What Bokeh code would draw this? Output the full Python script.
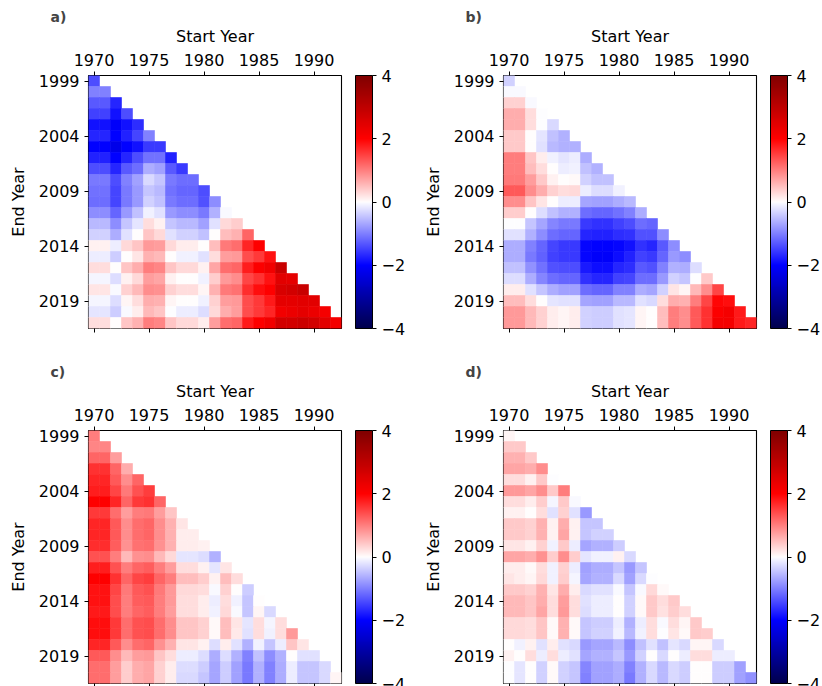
from bokeh.plotting import figure
from bokeh.models import (ColumnDataSource, LinearColorMapper, ColorBar, FixedTicker,
                          Range1d, LinearAxis, CustomJSTickFormatter, CustomLabelingPolicy)
from bokeh.layouts import column, row
from bokeh.embed import file_html
from bokeh.resources import INLINE

start_years = list(range(1970, 1993))
end_years = list(range(1999, 2022))
x_ticks = [1970, 1975, 1980, 1985, 1990]
y_ticks = [1999, 2004, 2009, 2014, 2019]
cbar_ticks = [-4, -2, 0, 2, 4]
panel_labels = ["a)", "b)", "c)", "d)"]

# one list per end year (1999..2021), values for start years 1970..(end-29)
panel_a = [
    [-1.4],
    [-1.0, -1.0],
    [-1.3, -1.3, -1.7],
    [-1.5, -1.5, -1.85, -1.4],
    [-1.85, -1.85, -2.05, -1.85, -1.65],
    [-1.7, -1.7, -2.0, -1.75, -1.45, -1.0],
    [-2.0, -2.0, -2.25, -2.0, -1.85, -1.55, -1.55],
    [-1.75, -1.75, -2.0, -1.7, -1.4, -1.1, -1.1, -1.75],
    [-1.4, -1.4, -1.7, -1.3, -1.15, -0.65, -0.75, -1.3, -1.55],
    [-1.05, -1.05, -1.4, -1.0, -0.75, -0.3, -0.45, -1.05, -1.15, -1.15],
    [-1.1, -1.1, -1.45, -1.05, -0.8, -0.45, -0.55, -1.1, -1.2, -1.2, -1.4],
    [-1.15, -1.15, -1.45, -1.05, -0.8, -0.35, -0.5, -1.05, -1.15, -1.15, -1.35, -0.9],
    [-0.9, -0.9, -1.2, -0.8, -0.5, -0.1, -0.25, -0.8, -0.9, -0.9, -1.05, -0.6, -0.05],
    [-0.55, -0.55, -0.9, -0.45, -0.2, 0.25, 0.1, -0.45, -0.55, -0.55, -0.75, -0.25, 0.3, 0.4],
    [-0.35, -0.35, -0.65, -0.25, 0.0, 0.45, 0.3, -0.25, -0.35, -0.35, -0.5, 0.0, 0.5, 0.6, 1.2],
    [0.1, 0.1, -0.15, 0.3, 0.45, 0.8, 0.75, 0.3, 0.15, 0.15, 0.0, 0.5, 1.05, 1.15, 1.7, 2.0],
    [-0.15, -0.15, -0.4, 0.0, 0.2, 0.6, 0.55, 0.02, -0.1, -0.1, -0.25, 0.27, 0.75, 0.8, 1.4, 1.55, 1.85],
    [0.27, 0.27, 0.0, 0.45, 0.65, 1.0, 0.95, 0.45, 0.3, 0.3, 0.1, 0.7, 1.15, 1.2, 1.75, 2.05, 2.2, 2.85],
    [-0.08, -0.08, -0.27, 0.1, 0.3, 0.75, 0.7, 0.1, 0.0, 0.0, -0.1, 0.4, 0.8, 0.9, 1.45, 1.6, 1.85, 2.45, 2.4],
    [0.2, 0.2, -0.05, 0.35, 0.55, 0.9, 0.85, 0.35, 0.25, 0.25, 0.08, 0.6, 1.05, 1.1, 1.65, 1.9, 2.0, 2.6, 2.7, 2.85],
    [-0.08, -0.08, -0.27, 0.08, 0.25, 0.65, 0.6, 0.08, 0.0, 0.0, -0.1, 0.35, 0.75, 0.8, 1.4, 1.55, 1.8, 2.4, 2.4, 2.45, 2.45],
    [-0.2, -0.2, -0.4, -0.05, 0.15, 0.55, 0.45, -0.03, -0.15, -0.15, -0.27, 0.3, 0.65, 0.75, 1.4, 1.55, 1.7, 2.2, 2.3, 2.4, 2.3, 2.15],
    [0.25, 0.25, 0.0, 0.45, 0.6, 1.0, 0.95, 0.45, 0.3, 0.3, 0.15, 0.75, 1.15, 1.2, 1.8, 2.0, 2.2, 2.7, 2.7, 2.8, 2.7, 2.45, 2.15],
]

panel_b = [
    [-0.35],
    [-0.05, -0.05],
    [0.35, 0.35, -0.05],
    [0.65, 0.65, 0.25, -0.03],
    [0.65, 0.65, 0.25, -0.03, -0.3],
    [0.43, 0.43, 0.0, -0.2, -0.5, -0.6],
    [0.43, 0.43, 0.0, -0.25, -0.55, -0.6, -0.6],
    [1.0, 1.0, 0.45, 0.15, -0.1, -0.2, -0.15, -0.65],
    [1.0, 1.0, 0.5, 0.25, 0.0, -0.15, -0.1, -0.5, -0.6],
    [1.05, 1.05, 0.75, 0.43, 0.12, 0.0, 0.05, -0.35, -0.5, -0.5],
    [1.3, 1.3, 0.9, 0.65, 0.35, 0.27, 0.3, -0.15, -0.27, -0.27, -0.1],
    [0.9, 0.9, 0.45, 0.2, 0.0, -0.15, -0.15, -0.7, -0.75, -0.75, -0.65, -0.55],
    [0.4, 0.4, 0.0, -0.27, -0.5, -0.6, -0.6, -1.15, -1.2, -1.2, -1.1, -1.0, -0.65],
    [-0.03, -0.03, -0.45, -0.7, -0.95, -1.05, -1.05, -1.55, -1.6, -1.6, -1.5, -1.4, -1.15, -1.2],
    [-0.25, -0.25, -0.6, -0.9, -1.15, -1.2, -1.2, -1.7, -1.75, -1.75, -1.65, -1.6, -1.35, -1.35, -0.9],
    [-0.65, -0.65, -1.0, -1.2, -1.45, -1.55, -1.55, -1.95, -2.0, -2.0, -1.95, -1.85, -1.6, -1.7, -1.3, -0.9],
    [-0.65, -0.65, -1.05, -1.25, -1.5, -1.55, -1.55, -1.95, -2.05, -2.05, -1.9, -1.75, -1.5, -1.55, -1.2, -0.8, -0.9],
    [-0.5, -0.5, -0.85, -1.1, -1.35, -1.4, -1.4, -1.8, -1.9, -1.9, -1.7, -1.65, -1.3, -1.35, -1.0, -0.6, -0.65, -0.27],
    [-0.27, -0.27, -0.65, -0.95, -1.15, -1.2, -1.2, -1.6, -1.7, -1.7, -1.5, -1.45, -1.15, -1.15, -0.8, -0.35, -0.45, -0.03, 0.43],
    [0.15, 0.15, -0.25, -0.45, -0.65, -0.75, -0.75, -1.15, -1.2, -1.2, -1.0, -1.0, -0.65, -0.7, -0.35, 0.2, 0.08, 0.55, 0.9, 1.45],
    [0.5, 0.5, 0.27, 0.0, -0.2, -0.25, -0.25, -0.7, -0.75, -0.75, -0.55, -0.55, -0.25, -0.3, 0.25, 0.65, 0.6, 1.0, 1.45, 1.95, 1.9],
    [0.8, 0.8, 0.55, 0.35, 0.15, 0.08, 0.13, -0.35, -0.4, -0.4, -0.25, -0.2, 0.08, 0.0, 0.5, 1.0, 0.9, 1.3, 1.6, 2.05, 2.15, 1.8],
    [0.8, 0.8, 0.55, 0.35, 0.15, 0.08, 0.13, -0.35, -0.4, -0.4, -0.25, -0.2, 0.08, 0.0, 0.5, 1.0, 0.9, 1.3, 1.6, 2.15, 2.15, 1.8, 1.7],
]

panel_c = [
    [1.0],
    [0.95, 0.95],
    [1.2, 1.2, 0.75],
    [1.6, 1.6, 1.2, 0.65],
    [1.7, 1.7, 1.3, 0.9, 1.2],
    [1.75, 1.75, 1.45, 1.05, 1.35, 1.5],
    [2.0, 2.0, 1.7, 1.2, 1.55, 1.6, 1.2],
    [1.55, 1.55, 1.15, 0.75, 1.0, 1.05, 0.75, 0.45],
    [1.7, 1.7, 1.3, 0.9, 1.15, 1.2, 0.9, 0.6, 0.2],
    [1.7, 1.7, 1.3, 0.9, 1.15, 1.2, 0.9, 0.6, 0.15, 0.15],
    [1.65, 1.65, 1.25, 0.85, 1.1, 1.15, 0.85, 0.6, 0.15, 0.15, 0.12],
    [1.35, 1.35, 1.0, 0.55, 0.85, 0.9, 0.55, 0.3, -0.2, -0.2, -0.27, -0.6],
    [1.75, 1.75, 1.35, 1.0, 1.2, 1.25, 1.0, 0.75, 0.25, 0.25, 0.12, -0.2, 0.2],
    [2.0, 2.0, 1.6, 1.2, 1.45, 1.5, 1.2, 1.0, 0.5, 0.5, 0.4, 0.12, 0.5, 0.25],
    [1.85, 1.85, 1.45, 1.05, 1.3, 1.35, 1.05, 0.8, 0.3, 0.3, 0.25, -0.05, 0.35, 0.0, -0.4],
    [1.85, 1.85, 1.4, 1.0, 1.25, 1.3, 1.0, 0.8, 0.27, 0.27, 0.15, -0.15, 0.27, -0.1, -0.45, 0.02],
    [1.8, 1.8, 1.4, 1.0, 1.2, 1.25, 1.0, 0.75, 0.25, 0.25, 0.15, -0.1, 0.3, -0.05, -0.45, 0.08, -0.3],
    [1.9, 1.9, 1.55, 1.15, 1.35, 1.4, 1.15, 0.9, 0.45, 0.45, 0.35, 0.04, 0.5, 0.2, -0.2, 0.27, -0.08, 0.27],
    [1.9, 1.9, 1.55, 1.15, 1.35, 1.4, 1.15, 0.9, 0.45, 0.45, 0.35, 0.05, 0.5, 0.18, -0.25, 0.27, -0.1, 0.25, 0.8],
    [1.7, 1.7, 1.3, 0.9, 1.15, 1.2, 0.85, 0.6, 0.2, 0.2, 0.12, -0.27, 0.15, -0.25, -0.6, -0.1, -0.45, -0.15, 0.45, 0.2],
    [1.3, 1.3, 0.9, 0.55, 0.75, 0.8, 0.45, 0.27, -0.15, -0.15, -0.27, -0.65, -0.27, -0.6, -1.0, -0.5, -0.9, -0.6, 0.0, -0.25, -0.25],
    [1.15, 1.15, 0.75, 0.4, 0.65, 0.7, 0.35, 0.15, -0.27, -0.27, -0.4, -0.7, -0.4, -0.75, -1.05, -0.6, -1.0, -0.65, -0.15, -0.45, -0.45, -0.3],
    [1.15, 1.15, 0.75, 0.4, 0.65, 0.7, 0.35, 0.15, -0.3, -0.3, -0.45, -0.7, -0.4, -0.75, -1.05, -0.6, -1.0, -0.65, -0.15, -0.45, -0.45, -0.3, 0.08],
]

panel_d = [
    [0.08],
    [0.43, 0.43],
    [0.6, 0.6, 0.43],
    [0.7, 0.7, 0.63, 0.9],
    [0.27, 0.27, 0.12, 0.43, -0.03],
    [0.8, 0.8, 0.7, 0.9, 0.43, 1.0],
    [0.27, 0.27, 0.15, 0.4, -0.08, 0.43, -0.05],
    [0.12, 0.12, 0.02, 0.27, -0.25, 0.35, -0.25, -0.8],
    [0.43, 0.43, 0.35, 0.6, 0.12, 0.65, 0.12, -0.45, -0.45],
    [0.43, 0.43, 0.35, 0.6, 0.12, 0.7, 0.12, -0.45, -0.35, -0.35],
    [0.2, 0.2, 0.12, 0.35, -0.12, 0.43, -0.15, -0.7, -0.6, -0.6, -0.4],
    [0.7, 0.7, 0.63, 0.85, 0.4, 0.9, 0.4, -0.2, -0.12, -0.12, 0.12, -0.3],
    [0.15, 0.15, 0.04, 0.27, -0.12, 0.35, -0.15, -0.75, -0.65, -0.65, -0.45, -0.8, -0.45],
    [0.2, 0.15, 0.08, 0.3, -0.12, 0.4, -0.08, -0.7, -0.6, -0.6, -0.3, -0.75, -0.3, -0.03],
    [0.43, 0.43, 0.35, 0.6, 0.2, 0.65, 0.15, -0.3, -0.25, -0.25, -0.05, -0.45, -0.05, 0.3, 0.05],
    [0.55, 0.55, 0.45, 0.65, 0.25, 0.75, 0.25, -0.25, -0.15, -0.15, 0.0, -0.35, 0.05, 0.43, 0.25, 0.43],
    [0.55, 0.55, 0.45, 0.7, 0.25, 0.8, 0.25, -0.27, -0.15, -0.15, 0.0, -0.35, 0.05, 0.43, 0.22, 0.4, 0.27],
    [0.3, 0.3, 0.25, 0.45, 0.04, 0.6, 0.04, -0.45, -0.4, -0.4, -0.15, -0.6, -0.15, 0.25, -0.05, 0.25, 0.08, 0.43],
    [0.3, 0.3, 0.25, 0.45, 0.04, 0.6, 0.04, -0.45, -0.35, -0.35, -0.12, -0.55, -0.1, 0.25, -0.03, 0.2, 0.05, 0.43, 0.4],
    [0.02, -0.1, 0.12, -0.25, 0.15, -0.25, -0.3, -0.8, -0.7, -0.7, -0.55, -0.9, -0.5, -0.25, -0.5, -0.2, -0.3, 0.08, 0.08, -0.3],
    [0.1, 0.02, 0.25, -0.15, 0.25, -0.15, -0.25, -0.7, -0.6, -0.6, -0.45, -0.8, -0.35, 0.0, -0.3, 0.02, -0.15, 0.25, 0.25, -0.15, -0.15],
    [-0.03, -0.2, 0.03, -0.35, 0.05, -0.35, -0.45, -0.95, -0.75, -0.75, -0.65, -1.0, -0.6, -0.3, -0.55, -0.3, -0.4, 0.02, 0.02, -0.4, -0.4, -0.75],
    [-0.03, -0.2, 0.03, -0.35, 0.05, -0.35, -0.45, -1.0, -0.75, -0.75, -0.65, -1.05, -0.6, -0.3, -0.55, -0.3, -0.4, 0.02, 0.02, -0.4, -0.4, -0.75, -0.85],
]


def seismic_palette(n=256):
    anchors = [(0, 0, 0.3), (0, 0, 1), (1, 1, 1), (1, 0, 0), (0.5, 0, 0)]
    pal = []
    for i in range(n):
        t = i / (n - 1) * 4
        k = min(int(t), 3)
        f = t - k
        c = [anchors[k][j] * (1 - f) + anchors[k + 1][j] * f for j in range(3)]
        pal.append("#%02x%02x%02x" % tuple(int(round(v * 255)) for v in c))
    return pal


PAL = seismic_palette()
FONT = "DejaVu Sans"
FS = "16px"


def style_axis(ax):
    ax.axis_line_color = None
    ax.major_tick_line_color = "black"
    ax.major_tick_out = 4
    ax.major_tick_in = 0
    ax.minor_tick_line_color = None
    ax.major_label_text_font = FONT
    ax.major_label_text_font_size = FS
    ax.major_label_text_color = "black"
    ax.axis_label_text_font = FONT
    ax.axis_label_text_font_style = "normal"
    ax.axis_label_text_font_size = FS
    ax.axis_label_text_color = "black"
    ax.major_label_standoff = 5


def make_panel(data, label, min_left, min_right, min_bottom):
    xs, ys, vs = [], [], []
    for r, vals in enumerate(data):
        for c, v in enumerate(vals[: r + 1]):
            xs.append(start_years[c])
            ys.append(end_years[r])
            vs.append(v)
    src = ColumnDataSource(dict(x=xs, y=ys, v=vs))
    mapper = LinearColorMapper(palette=PAL, low=-4, high=4)

    p = figure(frame_width=253, frame_height=253,
               x_range=Range1d(1969.5, 1992.5), y_range=Range1d(2021.5, 1998.5),
               x_axis_location="above", toolbar_location=None, output_backend="svg",
               min_border_left=min_left, min_border_right=min_right,
               min_border_top=75, min_border_bottom=min_bottom)
    p.rect(x="x", y="y", width=1, height=1, source=src,
           fill_color={"field": "v", "transform": mapper},
           line_color={"field": "v", "transform": mapper}, line_width=0.6)

    p.grid.visible = False
    p.outline_line_color = "black"
    p.outline_line_width = 1.1
    p.outline_line_alpha = 1

    p.xaxis.ticker = FixedTicker(ticks=x_ticks)
    p.yaxis.ticker = FixedTicker(ticks=y_ticks)
    p.xaxis.axis_label = "Start Year"
    p.yaxis.axis_label = "End Year"
    for ax in p.axis:
        style_axis(ax)
    p.xaxis.major_label_standoff = 6
    p.xaxis.axis_label_standoff = 5
    p.yaxis.axis_label_standoff = 8

    # tick marks (no labels) along the bottom edge
    no_labels = CustomLabelingPolicy(code="for (const i of indices) { indices.unset(i) } return indices")
    bottom = LinearAxis(ticker=FixedTicker(ticks=x_ticks), major_label_policy=no_labels)
    style_axis(bottom)
    p.add_layout(bottom, "below")

    p.title.text = label
    p.title.text_font = FONT
    p.title.text_font_style = "bold"
    p.title.text_font_size = "14px"
    p.title.align = "left"
    p.title.offset = -38
    p.title.standoff = -3

    cb = ColorBar(color_mapper=mapper, ticker=FixedTicker(ticks=cbar_ticks),
                  formatter=CustomJSTickFormatter(code="return tick < 0 ? '\u2212' + Math.abs(tick) : String(tick)"),
                  width=17, height=253, padding=0, margin=0, location=(14, 0),
                  bar_line_color="black", bar_line_width=1,
                  major_tick_line_color="black", major_tick_out=4, major_tick_in=0,
                  minor_tick_line_color=None, label_standoff=5,
                  major_label_text_font=FONT, major_label_text_font_size=FS,
                  major_label_text_color="black",
                  border_line_color=None, background_fill_color=None)
    p.add_layout(cb, "right")
    return p


pa = make_panel(panel_a, panel_labels[0], 88, 74, 27)
pb = make_panel(panel_b, panel_labels[1], 88, 60, 27)
pc = make_panel(panel_c, panel_labels[2], 88, 74, 3)
pd = make_panel(panel_d, panel_labels[3], 88, 60, 3)

layout = column(row(pa, pb), row(pc, pd))
open("out.html", "w").write(file_html(layout, INLINE))
